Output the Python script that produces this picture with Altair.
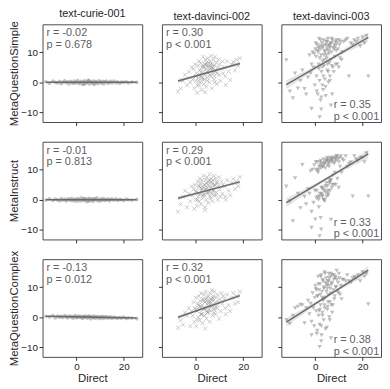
import altair as alt
import numpy as np
import pandas as pd

FONT = "Liberation Sans"

MODELS = ["text-curie-001", "text-davinci-002", "text-davinci-003"]
ROWS = ["MetaQuestionSimple", "MetaInstruct", "MetaQuestionComplex"]

R_LABELS = [["r = -0.02", "r = 0.30", "r = 0.35"],
            ["r = -0.01", "r = 0.29", "r = 0.33"],
            ["r = -0.13", "r = 0.32", "r = 0.38"]]
P_LABELS = [["p = 0.678", "p < 0.001", "p < 0.001"],
            ["p = 0.813", "p < 0.001", "p < 0.001"],
            ["p = 0.012", "p < 0.001", "p < 0.001"]]

X_TICKS = [0, 20]
Y_TICKS = [-10, 0, 10]

# ---------------- text-curie-001 ----------------
CURIE_X = [-13.0, -11.5, -10.0, -9.0, -8.0, -7.2, -6.5, -5.8, -5.0, -4.4,
           -3.8, -3.2, -2.6, -2.0, -1.5, -1.0, -0.5, 0.0, 0.5, 1.0,
           1.5, 2.0, 2.5, 3.0, 3.5, 4.0, 4.5, 5.0, 5.5, 6.0,
           6.5, 7.0, 7.5, 8.0, 8.5, 9.0, 9.5, 10.0, 10.5, 11.0,
           11.5, 12.0, 12.6, 13.2, 13.8, 14.4, 15.0, 15.8, 16.6, 17.4,
           18.2, 19.0, 20.0, 21.0, 22.0, 23.5, 25.5, 3.2, 5.2, 7.2]
CURIE_Y_SIMPLE = [0.2, -0.3, 0.4, 0.0, -0.2, 0.3, -0.4, 0.1, 0.5, -0.1,
                  0.2, -0.5, 0.3, 0.0, -0.3, 0.4, -0.2, 0.1, 0.6, -0.4,
                  0.0, 0.3, -0.6, 0.2, 0.5, -0.3, 0.1, 0.7, -0.5, 0.2,
                  -0.1, 0.4, -0.7, 0.3, 0.0, -0.4, 0.5, 0.1, -0.2, 0.3,
                  -0.5, 0.2, 0.4, -0.3, 0.0, 0.3, -0.2, 0.4, -0.1, 0.2,
                  -0.3, 0.1, 0.0, 0.2, -0.2, 0.1, 0.0, -0.6, 0.6, -0.3]
CURIE_Y_INSTRUCT = [-0.1, 0.3, -0.2, 0.2, 0.0, -0.3, 0.4, -0.1, 0.2, -0.4,
                    0.1, 0.3, -0.2, 0.5, -0.3, 0.0, 0.2, -0.5, 0.3, 0.1,
                    -0.4, 0.6, -0.1, 0.2, -0.3, 0.4, -0.6, 0.1, 0.5, -0.2,
                    0.3, -0.5, 0.2, 0.0, 0.6, -0.3, 0.1, -0.4, 0.3, -0.1,
                    0.4, -0.2, 0.0, 0.3, -0.3, 0.1, 0.2, -0.1, 0.3, -0.2,
                    0.1, 0.0, -0.2, 0.2, 0.0, -0.1, 0.1, 0.4, -0.4, 0.2]
CURIE_Y_COMPLEX = [0.3, 0.1, 0.5, -0.2, 0.4, 0.0, 0.3, -0.1, 0.5, 0.2,
                   -0.2, 0.4, 0.1, 0.3, -0.3, 0.2, 0.5, -0.2, 0.1, 0.4,
                   -0.1, 0.3, -0.4, 0.2, 0.0, 0.4, -0.3, 0.1, 0.3, -0.5,
                   0.2, -0.1, 0.4, -0.3, 0.0, 0.2, -0.4, 0.1, -0.2, 0.3,
                   -0.4, 0.0, 0.2, -0.3, -0.1, 0.1, -0.4, 0.0, -0.2, -0.3,
                   -0.1, -0.3, 0.0, -0.4, -0.2, -0.3, -0.5, 0.2, 0.3, -0.1]

# ---------------- text-davinci-002 ----------------
D002_X = [-7.6, -6.5, -5.5, -4.6, -3.8, -3.0, -2.4, -1.8,
          -1.4, -1.0, -0.7, -0.4, -0.1, 0.2, 0.5, 0.8, 1.0, 1.2,
          1.4, 1.6, 1.8, 2.0, 2.2, 2.4, 2.6, 2.8, 3.0, 3.2,
          3.4, 3.6, 3.8, 4.0, 4.2, 4.4, 4.6, 4.8, 5.0, 5.2,
          5.4, 5.6, 5.8, 6.0, 6.2, 6.4, 6.6, 6.8, 7.0, 7.2,
          7.4, 7.6, 7.8, 8.0, 8.3, 8.6, 8.9, 9.2, 9.5, 9.8,
          10.1, 10.4, 10.8, 11.2, 11.5,
          0.0, 1.1, 2.1, 2.9, 3.5, 4.1, 4.7, 5.3, 5.9, 6.5,
          7.1, 7.7, 8.4, 9.0, 3.3, 4.5, 5.5, 2.5, 6.3, 1.5,
          3.9, 4.9, 6.9, 0.6, 7.9,
          12.0, 12.6, 13.2, 13.8, 14.5, 15.2, 15.8, 16.5, 17.2, 17.9, 18.6, 12.4]
D002_Y_SIMPLE = [-3.1, -2.0, 0.5, 2.5, -1.0, 3.5, 0.0, 5.0,
                 1.0, 4.5, -2.0, 6.0, 0.5, 3.0, -3.5, 5.5, 1.5, 7.0,
                 -1.0, 4.0, 0.0, 6.5, 2.0, -2.5, 5.0, 1.0, 8.5, 3.5,
                 -0.5, 6.0, 2.5, 7.5, 4.5, -1.5, 5.5, 1.5, 8.0, 3.0,
                 6.5, 0.0, 5.0, 7.0, 2.0, 8.8, 4.0, -2.0, 6.0, 3.0,
                 7.5, 1.0, 5.5, 8.5, 3.5, 6.5, -0.5, 5.0, 7.5, 2.5,
                 6.0, 0.5, 4.5, 7.0, 3.0,
                 2.0, 0.5, 3.5, 5.5, 1.0, 6.0, 3.5, 5.5, 2.5, 5.0,
                 4.5, 2.0, 4.0, 3.0, 5.0, 6.5, 4.0, 1.5, 6.0, 2.5,
                 -3.3, 0.5, 5.0, -1.0, 0.0,
                 5.0, -0.9, 7.0, 3.6, 0.8, 6.0, 6.8, 4.0, 7.5, 5.5, 8.0, 2.0]
D002_Y_INSTRUCT = [-4.0, -1.5, 1.0, 3.0, -2.5, 2.0, -0.5, 4.5,
                   1.5, 3.5, -3.0, 5.0, 0.0, 2.5, -2.0, 6.0, 1.0, 4.5,
                   -0.5, 7.0, 2.0, 5.5, -1.5, 3.0, 6.5, 0.5, 4.0, 8.0,
                   1.5, 5.0, -2.5, 6.5, 3.5, 0.0, 7.5, 2.5, 5.0, -1.0,
                   6.0, 3.0, 8.5, 1.0, 4.5, 7.0, 2.0, 5.5, -0.5, 6.5,
                   3.0, 8.0, 1.5, 5.0, 7.0, 2.5, 6.0, 0.0, 4.5, 7.5,
                   3.5, 1.0, 6.0, 2.0, 5.0,
                   3.0, 2.0, 4.0, 1.5, 5.0, 3.5, 5.5, 2.5, 4.0, 6.0,
                   3.0, 4.5, 1.5, 5.5, 2.0, 4.0, 6.5, 3.5, 0.5, 4.5,
                   -3.5, 2.0, 3.5, 0.0, 5.0,
                   4.5, 0.0, 6.5, 3.0, 1.5, 5.5, 7.0, 3.5, 6.0, 4.5, 7.5, 1.0]
D002_Y_COMPLEX = [-3.5, -1.0, -2.5, 1.5, 0.5, 3.0, -3.0, 2.0,
                  0.5, 5.0, -1.5, 3.0, 6.5, -3.0, 2.0, 4.5, 0.0, 7.0,
                  2.5, -1.0, 5.5, 3.5, 8.0, 1.0, 4.0, -2.0, 6.0, 2.5,
                  7.5, 0.5, 5.0, 3.0, 8.5, -0.5, 4.5, 6.5, 1.5, 7.0,
                  3.5, 5.5, -1.5, 8.0, 2.0, 6.0, 4.0, 9.0, 0.5, 5.5,
                  7.0, 2.5, 8.5, 4.0, 1.0, 6.5, 3.0, 7.5, 5.0, -0.5,
                  6.0, 2.0, 8.0, 4.5, 7.0,
                  2.5, 4.0, 1.0, 5.5, 3.0, 6.0, 2.0, 4.5, 5.0, 3.5,
                  6.5, 1.5, 5.0, 4.0, 3.0, 5.5, 2.5, 1.0, 4.5, 3.5,
                  -3.8, 1.5, 6.0, -1.0, 3.0,
                  6.0, 1.0, 7.5, 4.0, 2.0, 6.5, 8.0, 4.5, 7.0, 5.0, 8.5, 3.0]

# ---------------- text-davinci-003 ----------------
D003_X = [-12.3, -10.8, -9.5, -8.6, -7.4, -6.3, -5.5, -4.6, -3.9, -3.1,
          -2.5, -2.0, -1.6, -1.2, -0.8, -0.5, -0.2, 0.0, 0.3, 0.5,
          0.8, 1.0, 1.2, 1.4, 1.6, 1.8, 2.0, 2.2, 2.4, 2.6,
          2.8, 3.0, 3.1, 3.3, 3.5, 3.7, 3.9, 4.0, 4.2, 4.4,
          4.6, 4.8, 5.0, 5.1, 5.3, 5.5, 5.7, 5.9, 6.0, 6.2,
          6.4, 6.6, 6.8, 7.0, 7.2, 7.4, 7.6, 7.8, 8.0, 8.2,
          8.4, 8.6, 8.8, 9.0, 9.3, 9.6, 9.9, 10.2, 10.5, 10.8,
          11.1, 11.4,
          0.6, 1.5, 2.5, 3.4, 4.3, 5.2, 6.1, 7.1,
          3.6, 4.9, 2.1, 5.6, 6.7,
          12.0, 12.8, 13.5, 14.2, 15.0, 15.8, 16.5, 17.3, 18.0, 19.0, 20.0, 20.8, 21.6, 22.4,
          -1.6, 1.8, 6.6, 2.5,
          0.2, 1.3, 2.3, 3.2, 4.1, 5.0, 5.8, 6.9, 7.9, 9.1,
          1.9, 2.9, 3.8, 4.7, 5.4, 6.3, 0.9, 8.5, 10.0, 3.0]
D003_Y_SIMPLE = [7.4, -3.0, -5.3, 3.0, -2.0, 0.5, 4.0, -2.2, -4.0, 1.6,
                 9.0, 3.0, 6.0, 10.0, 5.0, 9.5, -1.0, 11.0, 8.5, 2.0,
                 12.5, -4.0, 10.0, 6.0, 14.5, 0.5, 12.0, -6.0, 9.0, 3.5,
                 13.0, 7.0, 11.5, -2.5, 14.0, 5.5, 10.5, 1.0, 12.5, -4.5,
                 13.5, 8.0, 11.0, 4.0, 14.5, 0.0, 9.5, 6.5, 12.0, 2.0,
                 13.0, 7.5, 10.0, 5.5, 14.0, 5.0, 11.5, 3.5, 12.5, 8.5,
                 13.5, 6.0, 10.5, 14.0, 6.0, 11.0, 5.0, 12.5, 8.0, 13.5,
                 7.5, 10.0,
                 -3.0, 4.5, -5.0, 2.0, -1.5, 6.0, 0.5, -4.0,
                 9.0, 12.0, 11.0, 10.5, 13.0,
                 13.5, 14.0, 14.5, 2.0, 13.0, 12.5, 14.0, 13.5, 14.5, 12.0, 15.0, 13.0, 15.5, 2.0,
                 -8.8, -11.6, -7.7, -9.0,
                 13.0, 11.5, 14.0, 12.0, 10.0, 13.5, 12.5, 14.5, 11.0, 13.0,
                 8.0, 5.0, 7.5, 9.0, 3.5, 11.5, 10.5, 12.0, 14.0, -1.0]
D003_Y_INSTRUCT = [4.4, -0.5, -7.1, 7.2, 2.0, -2.8, 11.6, 1.0, -1.5, 3.5,
                   2.0, 9.5, -4.0, 10.0, -1.0, 11.5, 3.0, -6.5, 10.0, 0.5,
                   12.5, 1.0, 9.0, 0.0, 11.0, 1.0, 12.5, -6.0, 10.5, 2.0,
                   12.0, 1.5, 11.0, 3.5, 13.5, 0.0, 12.0, -0.5, 10.5, 2.5,
                   13.0, 1.0, 11.5, 4.5, 13.5, 1.5, 12.0, 5.5, 13.0, 3.0,
                   14.0, 6.5, 12.5, 4.0, 13.5, 8.0, 14.0, 5.0, 12.5, 9.0,
                   14.0, 5.0, 13.0, 14.5, 7.0, 13.5, 4.0, 14.0, 11.0, 14.5,
                   9.0, 13.5,
                   3.0, -2.5, 4.0, 0.0, 4.5, 2.0, 6.0, 5.0,
                   12.0, 13.0, 11.5, 12.5, 13.5,
                   13.0, 14.5, 11.0, 12.0, 12.5, 1.1, 14.5, 13.5, 13.0, 14.0, 14.0, 12.5, 15.5, 1.1,
                   -9.3, -12.1, -6.6, -9.9,
                   12.5, 10.0, 13.0, 11.0, 12.5, 14.0, 11.0, 13.0, 12.0, 14.5,
                   2.0, 4.0, 3.0, 5.5, 3.0, 6.5, 9.5, 13.5, 12.5, 1.0]
D003_Y_COMPLEX = [-1.0, -2.2, 0.5, 3.0, 3.5, 4.2, 4.0, -2.0, 3.0, 5.5,
                  1.0, 4.5, -1.5, 8.0, 3.0, -3.0, 6.5, 10.5, 2.0, 9.0,
                  -4.5, 7.0, 13.5, 0.5, 9.0, -2.5, 11.0, 4.0, 14.0, -6.0,
                  8.5, 1.5, 12.5, 5.5, -1.0, 10.0, 15.0, 3.0, 11.5, 6.5,
                  13.0, -3.5, 9.5, 2.5, 12.0, 7.5, 14.5, 0.0, 10.5, 5.0,
                  13.5, 8.0, 4.0, 11.0, 14.0, 4.0, 9.0, 12.5, 6.0, 7.0,
                  13.0, 10.0, 10.0, 15.5, 8.5, 11.5, 8.0, 13.0, 7.5, 10.5,
                  6.0, 12.5,
                  -5.5, 2.0, -3.0, 6.0, -4.0, 3.5, -1.0, 1.5,
                  9.5, 11.0, 7.5, 12.0, 14.5,
                  12.5, 12.0, 14.0, 12.0, 11.5, 13.0, 13.5, 13.0, 14.0, 12.0, 15.0, 13.5, 14.5, 4.3,
                  -6.0, -9.9, -7.0, -8.0,
                  9.5, 11.0, 13.5, 12.0, 14.5, 10.5, 13.0, 11.5, 14.0, 12.5,
                  2.5, 6.5, 4.0, 8.5, 5.0, 9.5, 7.0, 13.5, 14.5, 0.5]

X_BY_MODEL = [CURIE_X, D002_X, D003_X]
Y_BY_PANEL = [[CURIE_Y_SIMPLE, D002_Y_SIMPLE, D003_Y_SIMPLE],
              [CURIE_Y_INSTRUCT, D002_Y_INSTRUCT, D003_Y_INSTRUCT],
              [CURIE_Y_COMPLEX, D002_Y_COMPLEX, D003_Y_COMPLEX]]

N_REF = 500  # approximate sample size of the original per panel (CI width)

W, H = 101, 99
XDOM = [-14.4, 27.8]
YDOM = [-13.2, 19.3]
PT = "#8a8a8a"
XSHAPE = "M-1,-1L1,1M-1,1L1,-1"


def panel(ci, ri):
    xs = X_BY_MODEL[ci]
    ys = Y_BY_PANEL[ri][ci]
    df = pd.DataFrame({"x": xs, "y": ys})
    x = np.array(xs, dtype=float)
    y = np.array(ys, dtype=float)
    n = len(x)
    b, a = np.polyfit(x, y, 1)
    xg = np.linspace(x.min(), x.max(), 40)
    s = np.sqrt(((y - (a + b * x)) ** 2).sum() / (n - 2))
    sxx = ((x - x.mean()) ** 2).sum()
    half = 1.97 * s * np.sqrt(1 / n + (xg - x.mean()) ** 2 / sxx) * np.sqrt(n / N_REF)
    band = pd.DataFrame({"x": xg, "lo": a + b * xg - half, "hi": a + b * xg + half})

    left = ci == 0
    bottom = ri == 2
    xaxis = alt.Axis(values=X_TICKS, labels=bottom, title="Direct" if bottom else None,
                     grid=False, domain=False)
    yaxis = alt.Axis(values=Y_TICKS, labels=left, title=ROWS[ri] if left else None,
                     grid=False, domain=False)
    xs_ = alt.Scale(domain=XDOM, nice=False, zero=False)
    ys_ = alt.Scale(domain=YDOM, nice=False, zero=False)

    band_l = alt.Chart(band).mark_area(color="#cfcfcf", opacity=0.55).encode(
        x=alt.X("x:Q", scale=xs_, axis=xaxis),
        y=alt.Y("lo:Q", scale=ys_, axis=yaxis),
        y2="hi:Q")

    if ci == 0:
        mk = alt.Chart(df).mark_point(shape="circle", filled=True, size=14, opacity=0.5, color=PT)
    elif ci == 1:
        mk = alt.Chart(df).mark_point(shape=XSHAPE, filled=False, size=16, strokeWidth=0.8,
                                      opacity=0.55, color=PT)
    else:
        mk = alt.Chart(df).mark_point(shape="triangle-down", filled=True, size=20,
                                      opacity=0.55, color=PT)
    pts = mk.encode(x=alt.X("x:Q", scale=xs_, axis=xaxis), y=alt.Y("y:Q", scale=ys_, axis=yaxis))

    line = alt.Chart(df).transform_regression("x", "y").mark_line(
        color="#6a6a6a", strokeWidth=1.5).encode(
        x=alt.X("x:Q", scale=xs_, axis=xaxis), y=alt.Y("y:Q", scale=ys_, axis=yaxis))

    label = R_LABELS[ri][ci] + "\n" + P_LABELS[ri][ci]
    tdf = pd.DataFrame({"t": [label]})
    tx, ty = (4, 3) if ci < 2 else (53, H - 23)
    txt = alt.Chart(tdf).mark_text(align="left", baseline="top", lineBreak="\n",
                                   fontSize=11, lineHeight=12, color="#606060", font=FONT
                                   ).encode(x=alt.value(tx), y=alt.value(ty), text="t:N")

    ch = alt.layer(band_l, pts, line, txt).properties(width=W, height=H)
    if ri == 0:
        ch = ch.properties(title=MODELS[ci])
    return ch


panels = [panel(c, r) for r in range(3) for c in range(3)]
chart = alt.concat(*panels, columns=3, spacing=20, bounds="flush").properties(
    padding={"left": 0, "top": -4, "right": 0, "bottom": 0}
).configure_view(
    stroke="#4a4a4a", strokeWidth=1
).configure_axis(
    tickSize=3.5, tickColor="#333333", labelFontSize=10, labelColor="#262626",
    labelFont=FONT, titleFont=FONT, titleFontSize=11.5, titleFontWeight="normal",
    titleColor="#262626", labelPadding=1.5, titlePadding=1
).configure_title(
    font=FONT, fontSize=11, fontWeight="normal", color="#262626", offset=2
)

chart.save("out.html", embed_options={"renderer": "svg", "actions": False})
